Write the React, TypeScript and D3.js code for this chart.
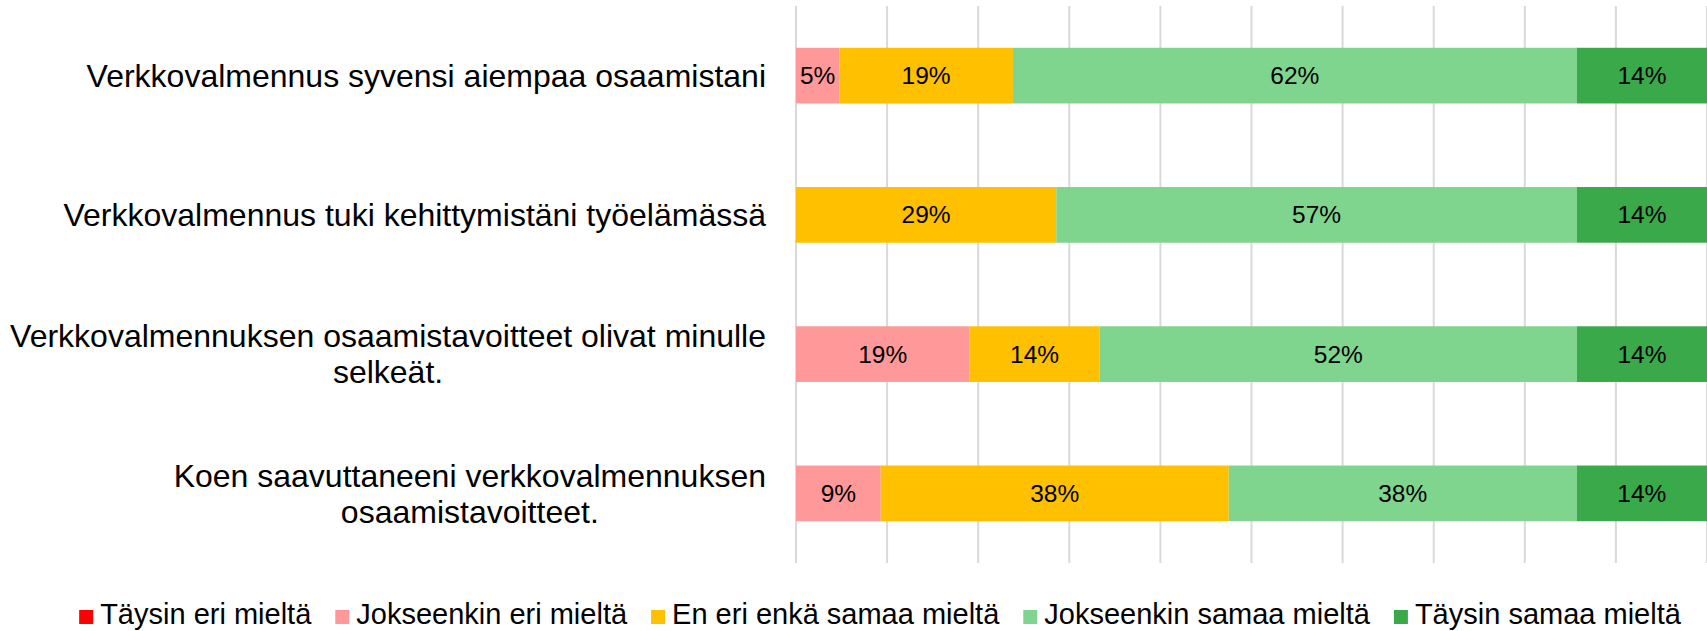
import React, { useEffect, useRef } from 'react';
import * as d3 from 'd3';

// statements (y-axis), each split in the lines shown on the chart
const statements: string[][] = [
  ['Verkkovalmennus syvensi aiempaa osaamistani'],
  ['Verkkovalmennus tuki kehittymistäni työelämässä'],
  ['Verkkovalmennuksen osaamistavoitteet olivat minulle', 'selkeät.'],
  ['Koen saavuttaneeni verkkovalmennuksen', 'osaamistavoitteet.'],
];

const seriesNames = [
  'Täysin eri mieltä',
  'Jokseenkin eri mieltä',
  'En eri enkä samaa mieltä',
  'Jokseenkin samaa mieltä',
  'Täysin samaa mieltä',
];

// shares in percent, one value per statement
const taysinEri = [0, 0, 0, 0];
const jokseenkinEri = [4.76, 0, 19.05, 9.3];
const enEriEnkaSamaa = [19.05, 28.57, 14.29, 38.2];
const jokseenkinSamaa = [61.9, 57.14, 52.38, 38.2];
const taysinSamaa = [14.29, 14.29, 14.29, 14.3];

const colors = ['#ff0000', '#ff9999', '#ffc000', '#7fd58e', '#3aa94a'];

const ticks = [0, 10, 20, 30, 40, 50, 60, 70, 80, 90, 100];

const W = 1707;
const H = 631;
const FONT = '"Liberation Sans", Arial, sans-serif';

const App: React.FC = () => {
  const svgRef = useRef<SVGSVGElement>(null);

  useEffect(() => {
    if (!svgRef.current) return;
    const svg = d3.select(svgRef.current);
    svg.selectAll('*').remove();

    const plot = { left: 796, right: 1707, top: 6, bottom: 563 };
    const values = [taysinEri, jokseenkinEri, enEriEnkaSamaa, jokseenkinSamaa, taysinSamaa];

    const rows = statements.map((lines, i) => {
      const row: any = { key: String(i) };
      values.forEach((v, s) => (row[seriesNames[s]] = v[i]));
      return row;
    });

    const stacked = d3.stack<any>().keys(seriesNames)(rows);

    const x = d3.scaleLinear().domain([0, 100]).range([plot.left, plot.right]);
    const y = d3.scaleBand()
      .domain(statements.map((_, i) => String(i)))
      .range([plot.top, plot.bottom])
      .paddingInner(0.6)
      .paddingOuter(0.3);

    // vertical gridlines
    svg.append('g')
      .selectAll('line')
      .data(ticks)
      .enter()
      .append('line')
      .attr('x1', d => x(d))
      .attr('x2', d => x(d))
      .attr('y1', plot.top)
      .attr('y2', plot.bottom)
      .attr('stroke', '#d9d9d9')
      .attr('stroke-width', 2);

    // stacked bars
    const layers = svg.append('g')
      .selectAll('g')
      .data(stacked)
      .enter()
      .append('g')
      .attr('fill', (_, i) => colors[i]);

    layers.selectAll('rect')
      .data(d => d.map(seg => ({ seg, key: (d as any).key })))
      .enter()
      .append('rect')
      .attr('x', d => x(d.seg[0]))
      .attr('y', d => y(d.seg.data.key) || 0)
      .attr('width', d => x(d.seg[1]) - x(d.seg[0]))
      .attr('height', y.bandwidth());

    // value labels
    layers.selectAll('text')
      .data(d => d.filter(seg => seg[1] - seg[0] > 0))
      .enter()
      .append('text')
      .attr('x', d => (x(d[0]) + x(d[1])) / 2)
      .attr('y', d => (y(d.data.key) || 0) + y.bandwidth() / 2)
      .attr('dy', '0.35em')
      .attr('text-anchor', 'middle')
      .attr('fill', '#000')
      .style('font-family', FONT)
      .style('font-size', '24.5px')
      .text(d => `${Math.round(d[1] - d[0])}%`);

    // category labels: block right-aligned, lines centred inside the block
    const labelRight = 766;
    const lineH = 36;
    statements.forEach((lines, i) => {
      const cy = (y(String(i)) || 0) + y.bandwidth() / 2;
      const g = svg.append('g');
      const texts = lines.map((ln, j) =>
        g.append('text')
          .attr('y', cy + (j - (lines.length - 1) / 2) * lineH)
          .attr('dy', '0.35em')
          .attr('text-anchor', 'middle')
          .attr('fill', '#000')
          .style('font-family', FONT)
          .style('font-size', '32px')
          .text(ln)
      );
      const blockW = d3.max(texts, t => (t.node() as SVGTextElement).getComputedTextLength()) || 0;
      texts.forEach(t => t.attr('x', labelRight - blockW / 2));
    });

    // legend
    const legend = svg.append('g');
    const sq = 14;
    const gap = 7;
    const spacing = 24;
    const items = seriesNames.map((name, i) => {
      const t = legend.append('text')
        .attr('y', 624)
        .attr('fill', '#000')
        .style('font-family', FONT)
        .style('font-size', '29px')
        .text(name);
      const r = legend.append('rect')
        .attr('y', 610)
        .attr('width', sq)
        .attr('height', sq)
        .attr('fill', colors[i]);
      return { t, r, w: (t.node() as SVGTextElement).getComputedTextLength() };
    });
    const total = d3.sum(items, d => sq + gap + d.w) + spacing * (items.length - 1);
    let cx = 880 - total / 2;
    items.forEach(it => {
      it.r.attr('x', cx);
      it.t.attr('x', cx + sq + gap);
      cx += sq + gap + it.w + spacing;
    });
  }, []);

  return (
    <svg
      ref={svgRef}
      width={W}
      height={H}
      style={{ position: 'absolute', left: 0, top: 0, background: '#fff' }}
    />
  );
};

export default App;
